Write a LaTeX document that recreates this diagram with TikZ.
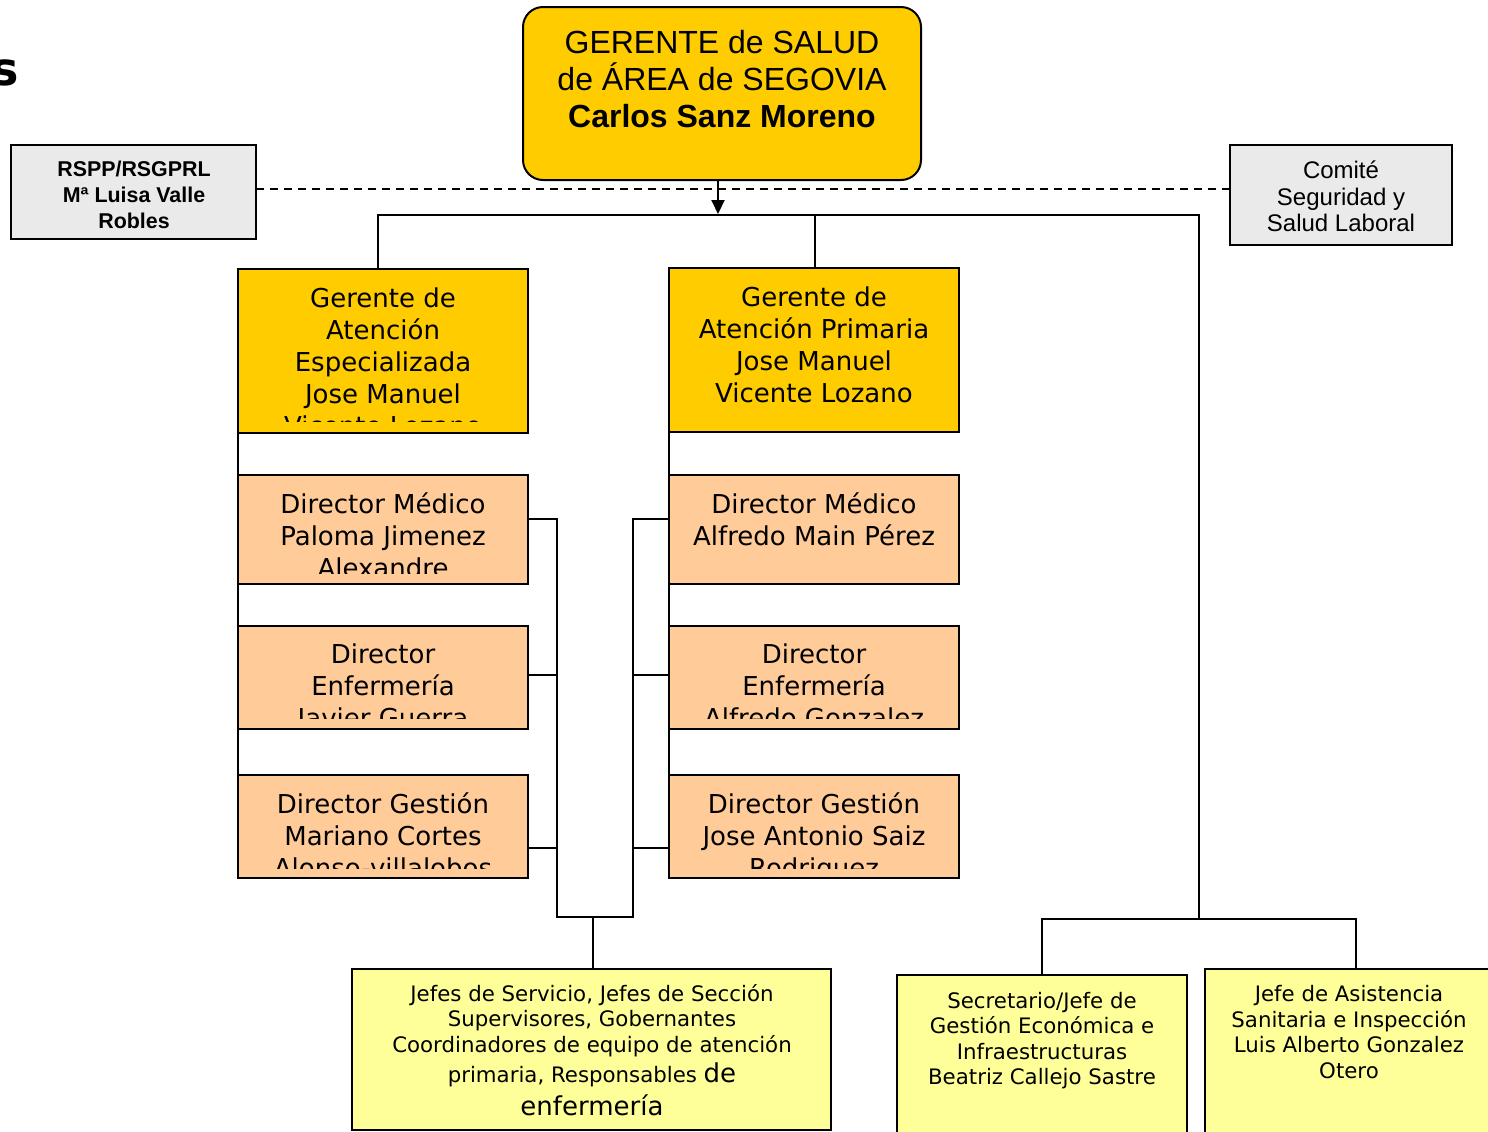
\documentclass[tikz,border=0pt]{standalone}
\usepackage{fontspec}
\setmainfont{DejaVu Sans}
\newfontfamily\arialf{Liberation Sans}
\usetikzlibrary{arrows.meta}
\definecolor{gold}{HTML}{FFCC00}
\definecolor{peach}{HTML}{FFCC99}
\definecolor{lyel}{HTML}{FFFF99}
\definecolor{lgray}{HTML}{EAEAEA}
\tikzset{
  box/.style={draw=black, line width=1pt, rectangle, inner sep=0pt, outer sep=0pt, anchor=north west},
  txt/.style={align=center, inner sep=0pt, font=\fontsize{13}{16}\selectfont},
  stxt/.style={align=center, inner sep=0pt, font=\fontsize{10.65}{12.75}\selectfont},
  conn/.style={draw=black, line width=1pt},
}
\begin{document}
\begin{tikzpicture}[x=0.5pt,y=-0.5pt]
\useasboundingbox (0,0) rectangle (1488,1131);
\clip (0,0) rectangle (1488,1131);
\fill[white] (0,0) rectangle (1488,1131);

% fragment of a title at the left edge
\node[anchor=base east, inner sep=0pt, font=\fontsize{23}{23}\selectfont\bfseries] (frag) at (19,85) {s};

% boxes
\node[box, fill=lgray, minimum width=122.5pt, minimum height=47pt] (rspp) at (11,145) {};
\node[box, fill=gold, rounded corners=10pt, minimum width=199pt, minimum height=86.5pt] (ger) at (523,7) {};
\node[box, fill=lgray, minimum width=111pt, minimum height=50pt] (com) at (1230,145) {};
\node[box, fill=gold, minimum width=145pt, minimum height=82pt] (ae) at (238,269) {};
\node[box, fill=gold, minimum width=145pt, minimum height=82pt] (ap) at (669,268) {};
\node[box, fill=peach, minimum width=145pt, minimum height=54.5pt] (dml) at (238,475) {};
\node[box, fill=peach, minimum width=145pt, minimum height=51.5pt] (del) at (238,626) {};
\node[box, fill=peach, minimum width=145pt, minimum height=51.5pt] (dgl) at (238,775) {};
\node[box, fill=peach, minimum width=145pt, minimum height=54.5pt] (dmr) at (669,475) {};
\node[box, fill=peach, minimum width=145pt, minimum height=51.5pt] (der) at (669,626) {};
\node[box, fill=peach, minimum width=145pt, minimum height=51.5pt] (dgr) at (669,775) {};
\node[box, fill=lyel, minimum width=239.5pt, minimum height=80.5pt] (jef) at (352,969) {};
\node[box, fill=lyel, minimum width=145pt, minimum height=90pt] (sec) at (897,975) {};
\node[box, fill=lyel, minimum width=150pt, minimum height=90pt] (ja) at (1205,969) {};

% texts
\node[align=center, inner sep=0pt, font=\arialf\bfseries\fontsize{10.7}{13}\selectfont] (rsppT) at (134,194.5) {RSPP/RSGPRL\\Mª Luisa Valle\\Robles};
\node[align=center, inner sep=0pt, font=\arialf\fontsize{16}{18.5}\selectfont] (gerT) at (722,79) {GERENTE de SALUD\\de ÁREA de SEGOVIA\\\textbf{Carlos Sanz Moreno}};
\node[align=center, inner sep=0pt, font=\arialf\fontsize{12}{13.25}\selectfont] (comT) at (1341,196.5) {Comité\\Seguridad y\\Salud Laboral};

\begin{scope}
\clip (238,269) rectangle (528,421);
\node[txt] (aeT) at (383,362) {Gerente de\\Atención\\Especializada\\Jose Manuel\\Vicente Lozano};
\end{scope}
\node[txt] (apT) at (814,345) {Gerente de\\Atención Primaria\\Jose Manuel\\Vicente Lozano};

\begin{scope}
\clip (238,475) rectangle (528,573);
\node[txt] (dmlT) at (383,535) {Director Médico\\Paloma Jimenez\\Alexandre};
\end{scope}
\begin{scope}
\clip (238,626) rectangle (528,718);
\node[txt] (delT) at (383,688) {Director\\Enfermería\\Javier Guerra};
\end{scope}
\begin{scope}
\clip (238,775) rectangle (528,868);
\node[txt] (dglT) at (383,835) {Director Gestión\\Mariano Cortes\\Alonso-villalobos};
\end{scope}
\node[txt] (dmrT) at (814,519) {Director Médico\\Alfredo Main Pérez};
\begin{scope}
\clip (669,626) rectangle (959,718);
\node[txt] (derT) at (814,686) {Director\\Enfermería\\Alfredo Gonzalez};
\end{scope}
\begin{scope}
\clip (669,775) rectangle (959,868);
\node[txt] (dgrT) at (814,838) {Director Gestión\\Jose Antonio Saiz\\Rodriguez};
\end{scope}

\node[stxt] (jefA) at (592,1020.5) {Jefes de Servicio, Jefes de Sección\\Supervisores, Gobernantes\\Coordinadores de equipo de atención};
\node[anchor=base, inner sep=0pt] (jefB) at (592,1082) {\fontsize{10.65}{12.75}\selectfont primaria, Responsables \fontsize{13}{15}\selectfont de};
\node[anchor=base, inner sep=0pt, font=\fontsize{13}{15}\selectfont] (jefC) at (592,1115) {enfermería};
\node[stxt] (secT) at (1042,1040.5) {Secretario/Jefe de\\Gestión Económica e\\Infraestructuras\\Beatriz Callejo Sastre};
\node[stxt] (jaT) at (1349,1032) {Jefe de Asistencia\\Sanitaria e Inspección\\Luis Alberto Gonzalez\\Otero};

% connector coordinates
\coordinate (arrTop) at (718,180);
\coordinate (arrEnd) at (718,214);
\coordinate (topL) at (378,215);
\coordinate (topR) at (1199,215);
\coordinate (botR) at (1199,920);
\coordinate (yD) at (0,189);
\coordinate (vL) at (557,519);
\coordinate (e1) at (557,675);
\coordinate (e2) at (557,848);
\coordinate (vLb) at (557,917);
\coordinate (vR) at (633,519);
\coordinate (f1) at (633,675);
\coordinate (f2) at (633,848);
\coordinate (vRb) at (633,917);
\coordinate (mid) at (593,917);
\coordinate (h1) at (1042,919);
\coordinate (h2) at (1356,919);

% connectors
\draw[conn, dash pattern=on 4pt off 3pt] (rspp.east |- yD) -- (com.west |- yD);
\draw[conn, -{Triangle[width=6.5pt,length=7pt]}] (arrTop) -- (arrEnd);
\draw[conn] (topL |- ae.north) -- (topL) -- (topR) -- (botR);
\draw[conn] (ap.north -| 815,0) -- (topL -| 815,0);
\draw[conn] (ae.south west) -- (dml.north west);
\draw[conn] (dml.south west) -- (del.north west);
\draw[conn] (del.south west) -- (dgl.north west);
\draw[conn] (ap.south west) -- (dmr.north west);
\draw[conn] (dmr.south west) -- (der.north west);
\draw[conn] (der.south west) -- (dgr.north west);
\draw[conn] (dml.east |- vL) -- (vL) -- (vLb) -- (vRb) -- (vR) -- (dmr.west |- vR);
\draw[conn] (del.east |- e1) -- (e1);
\draw[conn] (dgl.east |- e2) -- (e2);
\draw[conn] (der.west |- f1) -- (f1);
\draw[conn] (dgr.west |- f2) -- (f2);
\draw[conn] (mid) -- (jef.north -| mid);
\draw[conn] (sec.north -| h1) -- (h1) -- (h2) -- (ja.north -| h2);
\end{tikzpicture}
\end{document}
